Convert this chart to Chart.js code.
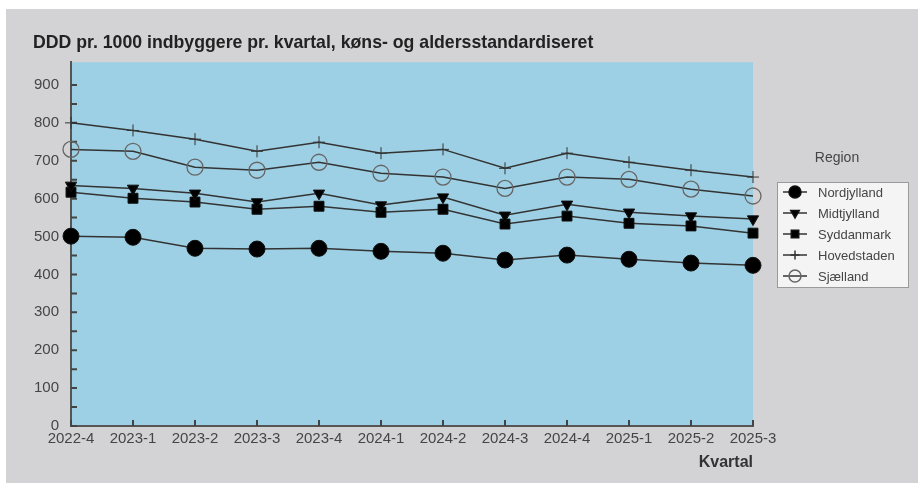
<!DOCTYPE html>
<html>
<head>
<meta charset="utf-8">
<script src="https://cdn.jsdelivr.net/npm/chart.js@4/dist/chart.umd.min.js"></script>
<style>
  body { margin: 0; background: #fff; }
  #wrap { position: absolute; left: 6px; top: 9px; width: 912px; height: 474px; background: #d3d3d5; }
</style>
</head>
<body>
<div id="wrap"><canvas id="myChart"></canvas></div>
<script>
// quarters on the x axis
const quarters = ["2022-4", "2023-1", "2023-2", "2023-3", "2023-4", "2024-1", "2024-2", "2024-3", "2024-4", "2025-1", "2025-2", "2025-3"];

// DDD per 1000 inhabitants
const nordjylland = [501, 498, 469, 467, 469, 461, 456, 438, 451, 440, 430, 424];
const midtjylland = [635, 627, 614, 591, 614, 583, 604, 556, 585, 564, 554, 546];
const syddanmark  = [617, 601, 591, 572, 580, 564, 572, 533, 554, 535, 528, 509];
const hovedstaden = [800, 780, 757, 725, 749, 720, 730, 680, 720, 696, 675, 657];
const sjaelland   = [730, 725, 683, 675, 696, 667, 657, 627, 657, 651, 625, 607];

const lineColor = "#333";
const textColor = "#454545";

// fill the plot area with the blue background
const plotBg = {
  id: "plotBg",
  beforeDraw(chart) {
    const { ctx, chartArea: a } = chart;
    ctx.save();
    ctx.fillStyle = "#9dd0e4";
    ctx.fillRect(a.left, a.top, a.right - a.left, a.bottom - a.top);
    ctx.restore();
  },
};

// small tick marks pointing into the plot
const innerTicks = {
  id: "innerTicks",
  beforeDatasetsDraw(chart) {
    const { ctx, scales } = chart;
    const x = scales.x, y = scales.y;
    ctx.save();
    ctx.strokeStyle = "#444";
    ctx.lineWidth = 2;
    ctx.beginPath();
    y.ticks.forEach((t) => {
      if (t.value % 50 !== 0) return;
      const py = y.getPixelForValue(t.value);
      ctx.moveTo(y.right, py);
      ctx.lineTo(y.right + 6, py);
    });
    quarters.forEach((q, i) => {
      const px = x.getPixelForValue(i);
      ctx.moveTo(px, x.top);
      ctx.lineTo(px, x.top - 6);
    });
    ctx.stroke();
    ctx.restore();
  },
};

// legend box on the right with line + marker samples
const boxLegend = {
  id: "boxLegend",
  afterDraw(chart) {
    const { ctx, chartArea: a } = chart;
    const left = a.right + 24, top = 173, w = 131, h = 105;
    ctx.save();
    ctx.font = "14px 'Liberation Sans', Arial, sans-serif";
    ctx.fillStyle = textColor;
    ctx.textAlign = "center";
    ctx.textBaseline = "middle";
    ctx.fillText("Region", left + 60, 149);

    ctx.fillStyle = "#f4f4f4";
    ctx.fillRect(left, top, w, h);
    ctx.strokeStyle = "#9a9a9a";
    ctx.lineWidth = 1;
    ctx.strokeRect(left + 0.5, top + 0.5, w, h);

    chart.data.datasets.forEach((ds, i) => {
      const cy = top + 10 + i * 21;
      ctx.strokeStyle = lineColor;
      ctx.lineWidth = 1.5;
      ctx.beginPath();
      ctx.moveTo(left + 6, cy);
      ctx.lineTo(left + 30, cy);
      ctx.stroke();
      ctx.fillStyle = ds.pointBackgroundColor;
      ctx.strokeStyle = ds.pointBorderColor;
      Chart.helpers.drawPoint(ctx, {
        pointStyle: ds.pointStyle,
        radius: ds.pointRadius * 0.75,
        rotation: ds.pointRotation || 0,
        borderWidth: ds.pointBorderWidth,
      }, left + 18, cy);
      ctx.fillStyle = textColor;
      ctx.textAlign = "left";
      ctx.font = "13px 'Liberation Sans', Arial, sans-serif";
      ctx.fillText(ds.label, left + 41, cy + 1);
    });
    ctx.restore();
  },
};

function series(label, data, style, radius, fill, extra) {
  return Object.assign({
    label: label,
    data: data,
    borderColor: lineColor,
    borderWidth: 1.5,
    tension: 0,
    fill: false,
    pointStyle: style,
    pointRadius: radius,
    pointHoverRadius: radius,
    pointBackgroundColor: fill,
    pointBorderColor: "#111",
    pointBorderWidth: 1,
  }, extra || {});
}

const ctx = document.getElementById("myChart");
new Chart(ctx, {
  type: "line",
  data: {
    labels: quarters,
    datasets: [
      series("Nordjylland", nordjylland, "circle", 8, "#000"),
      series("Midtjylland", midtjylland, "triangle", 6.5, "#000", { pointRotation: 180 }),
      series("Syddanmark", syddanmark, "rect", 7, "#000"),
      series("Hovedstaden", hovedstaden, "cross", 6, "#000", { pointBorderColor: "#333" }),
      series("Sjælland", sjaelland, "circle", 8, "rgba(0,0,0,0)", { pointBorderColor: "#666", pointBorderWidth: 1.3 }),
    ],
  },
  options: {
    responsive: true,
    maintainAspectRatio: false,
    animation: false,
    layout: { padding: { left: 27, right: 165, top: 0, bottom: 10 } },
    plugins: {
      legend: { display: false },
      tooltip: { enabled: false },
      title: {
        display: true,
        text: "DDD pr. 1000 indbyggere pr. kvartal, køns- og aldersstandardiseret",
        align: "start",
        color: "#222",
        font: { family: "'Liberation Sans', Arial, sans-serif", size: 17.7, weight: "bold" },
        padding: { top: 23, bottom: 9 },
      },
    },
    scales: {
      x: {
        offset: false,
        grid: { display: false, drawTicks: false },
        border: { display: true, color: "#555", width: 2 },
        ticks: {
          color: textColor,
          padding: 4,
          maxRotation: 0,
          autoSkip: false,
          font: { family: "'Liberation Sans', Arial, sans-serif", size: 15 },
        },
        title: {
          display: true,
          text: "Kvartal",
          align: "end",
          color: "#333",
          font: { family: "'Liberation Sans', Arial, sans-serif", size: 16, weight: "bold" },
          padding: { top: 4, bottom: 1 },
        },
        afterFit(scale) { scale.height = 47; },
      },
      y: {
        min: 0,
        max: 960,
        grid: { display: false, drawTicks: false },
        border: { display: true, color: "#555", width: 2 },
        ticks: {
          stepSize: 50,
          color: textColor,
          padding: 12,
          autoSkip: false,
          font: { family: "'Liberation Sans', Arial, sans-serif", size: 15 },
          callback: (v) => (v % 100 === 0 && v <= 900 ? v : ""),
        },
        afterFit(scale) { scale.width = 38; },
      },
    },
  },
  plugins: [plotBg, innerTicks, boxLegend],
});
</script>
</body>
</html>
